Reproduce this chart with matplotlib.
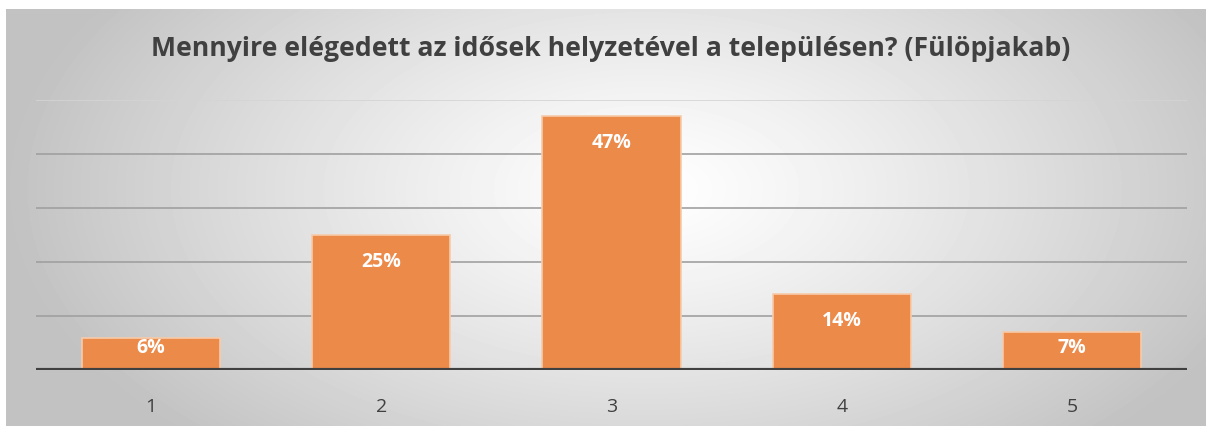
import numpy as np
import matplotlib.pyplot as plt

categories = ['1', '2', '3', '4', '5']
shares = [6, 25, 47, 14, 7]
title = 'Mennyire elégedett az idősek helyzetével a településen? (Fülöpjakab)'

W, H = 1206, 426
fig = plt.figure(figsize=(W / 100, H / 100), dpi=100)

# radial grey-to-white background panel
bg = fig.add_axes([6 / W, 0, 1 - 6 / W, 1 - 9 / H])
yy, xx = np.mgrid[0:417, 0:1200]
cx, cy = 640, 180
r = np.sqrt(((xx - cx) / 1.0) ** 2 + ((yy - cy) / 0.55) ** 2)
r = np.clip(r / 640, 0, 1)
shade = 1.0 - 0.24 * r ** 1.2
bg.imshow(shade, cmap='gray', vmin=0, vmax=1, aspect='auto', interpolation='bilinear')
bg.axis('off')

# plot area
left, right = 36, 1187
top, base = 100, 370
ax = fig.add_axes([left / W, 1 - base / H, (right - left) / W, (base - top) / H])
ax.patch.set_alpha(0)
x = np.arange(len(categories))
ax.set_xlim(-0.5, len(categories) - 0.5)
ax.set_ylim(0, 50)

for g in [10, 20, 30, 40]:
    ax.axhline(g, color='#A0A0A0', lw=1.2, zorder=1)
ax.axhline(50, color='#D4D4D4', lw=1.2, zorder=1)

ax.bar(x, shares, width=0.6, color='#EC8A4A', edgecolor='#F7CBA9', linewidth=1.2, zorder=2)
ax.axhline(0, color='#404040', lw=3, zorder=3)

for xi, v in zip(x, shares):
    ax.text(xi, v - min(5.0, v - 4.0), f'{v}%', ha='center', va='center',
            color='white', fontsize=14, fontweight='bold', family='Open Sans', zorder=4)

ax.set_xticks(x)
ax.set_xticklabels(categories, fontsize=14, color='#404040', family='Open Sans')
ax.tick_params(axis='x', length=0, pad=20)
ax.set_yticks([])
for s in ax.spines.values():
    s.set_visible(False)

fig.text(611 / W, 1 - 49 / H, title, ha='center', va='center', fontsize=19.2,
         fontweight='bold', color='#404040', family='Open Sans')

fig.savefig('out.png', dpi=100)
